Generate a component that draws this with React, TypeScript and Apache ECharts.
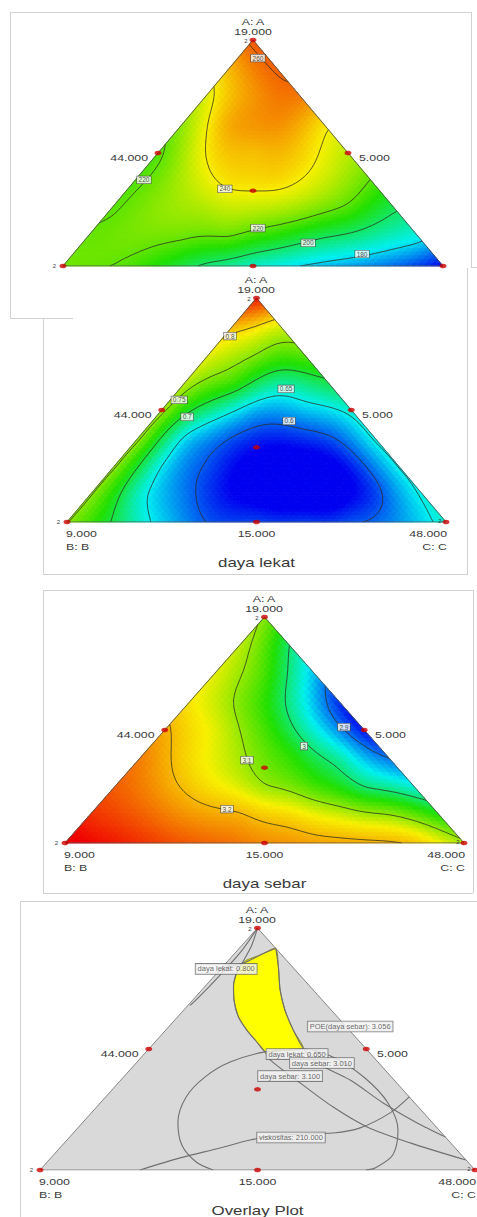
import React, { useEffect, useRef } from "react";
import * as echarts from "echarts";

// ---------- DATA ----------
// Lattice of estimated response values: row i has A = i/8, values go from the B side (C = 0) to the C side.
const LATTICE = 8;

const viskositasRows = [
  [222, 220, 211, 198, 188, 180, 174, 167, 155],
  [221, 223, 221, 219, 210, 200, 192, 183],
  [219, 226, 230, 232, 227, 217, 201],
  [218, 230, 242, 243, 234, 219],
  [218, 240, 247, 245, 232],
  [226, 250, 254, 242],
  [236, 253, 257],
  [248, 261],
  [262],
];
const dayaLekatRows = [
  [0.752, 0.695, 0.64, 0.598, 0.592, 0.59, 0.597, 0.62, 0.66],
  [0.753, 0.665, 0.61, 0.57, 0.55, 0.55, 0.59, 0.655],
  [0.755, 0.65, 0.595, 0.56, 0.555, 0.58, 0.652],
  [0.757, 0.645, 0.598, 0.58, 0.595, 0.655],
  [0.76, 0.68, 0.63, 0.635, 0.66],
  [0.768, 0.725, 0.675, 0.695],
  [0.785, 0.75, 0.735],
  [0.815, 0.78],
  [0.88],
];
const dayaSebarRows = [
  [3.38, 3.34, 3.3, 3.27, 3.24, 3.22, 3.21, 3.19, 3.11],
  [3.32, 3.28, 3.23, 3.205, 3.17, 3.13, 3.1, 3.04],
  [3.28, 3.22, 3.16, 3.105, 3.06, 3.0, 2.96],
  [3.25, 3.17, 3.11, 3.05, 2.98, 2.9],
  [3.21, 3.14, 3.06, 2.96, 2.86],
  [3.16, 3.09, 2.99, 2.87],
  [3.14, 3.06, 2.93],
  [3.12, 3.0],
  [3.09],
];

const viskositasLevels = [180, 200, 220, 240, 260];
const dayaLekatLevels = [0.6, 0.65, 0.7, 0.75, 0.8];
const dayaSebarLevels = [2.9, 3.0, 3.1, 3.2];

const viskositasColorStops = [155, 183, 212, 240, 275];
const dayaLekatColorStops = [0.57, 0.65, 0.715, 0.79, 0.89];
const dayaSebarColorStops = [2.85, 2.95, 3.04, 3.15, 3.36];
const rainbowColors = ["#0000f0", "#00f0f0", "#20e000", "#f8f000", "#f00000"];

const viskositasLabels = [
  { text: "260", x: 0.513, y: 0.92 },
  { text: "240", x: 0.426, y: 0.341 },
  { text: "220", x: 0.513, y: 0.168 },
  { text: "200", x: 0.645, y: 0.102 },
  { text: "180", x: 0.787, y: 0.053 },
  { text: "220", x: 0.213, y: 0.381 },
];
const dayaLekatLabels = [
  { text: "0.8", x: 0.43, y: 0.83 },
  { text: "0.75", x: 0.296, y: 0.545 },
  { text: "0.7", x: 0.317, y: 0.469 },
  { text: "0.65", x: 0.578, y: 0.594 },
  { text: "0.6", x: 0.586, y: 0.451 },
];
const dayaSebarLabels = [
  { text: "2.9", x: 0.699, y: 0.513 },
  { text: "3", x: 0.599, y: 0.429 },
  { text: "3.1", x: 0.456, y: 0.367 },
  { text: "3.2", x: 0.406, y: 0.15 },
];

// Overlay plot curves (x = C + A/2, y = A)
const overlayLekat080 = [[0.542, 0.916], [0.506, 0.888], [0.467, 0.855], [0.425, 0.835], [0.409, 0.818]];
const overlaySebar310 = [
  [0.5, 1.0], [0.487, 0.93], [0.469, 0.868], [0.453, 0.818], [0.445, 0.764], [0.446, 0.702],
  [0.456, 0.633], [0.475, 0.579], [0.498, 0.53], [0.517, 0.489], [0.529, 0.455], [0.598, 0.36],
  [0.674, 0.26], [0.752, 0.178], [0.851, 0.112], [0.979, 0.041],
];
const overlaySebar301 = [
  [0.542, 0.916], [0.548, 0.84], [0.552, 0.744], [0.563, 0.661], [0.582, 0.579], [0.605, 0.503],
  [0.637, 0.442], [0.713, 0.372], [0.789, 0.277], [0.867, 0.194], [0.932, 0.136],
];
const overlayLekat065 = [
  [0.398, 0], [0.359, 0.033], [0.326, 0.103], [0.317, 0.198], [0.336, 0.302], [0.379, 0.384],
  [0.437, 0.446], [0.517, 0.488], [0.605, 0.5], [0.678, 0.463], [0.747, 0.38], [0.8, 0.277],
  [0.823, 0.165], [0.811, 0.062], [0.77, 0.008], [0.749, 0],
];
const overlayVisk210 = [
  [0.23, 0], [0.322, 0.05], [0.414, 0.091], [0.483, 0.124], [0.559, 0.145], [0.674, 0.153],
  [0.736, 0.174], [0.805, 0.236], [0.849, 0.302],
];
const overlayEdgeCurve = [[0.5, 1.0], [0.462, 0.902], [0.407, 0.792], [0.363, 0.71], [0.345, 0.68]];
const overlayYellow = [
  [0.542, 0.916], [0.506, 0.888], [0.472, 0.864], [0.453, 0.818], [0.445, 0.764], [0.446, 0.702],
  [0.456, 0.633], [0.475, 0.579], [0.498, 0.53], [0.517, 0.489], [0.56, 0.494], [0.605, 0.503],
  [0.582, 0.579], [0.563, 0.661], [0.552, 0.744], [0.548, 0.84],
];
const overlayLabels = [
  { text: "daya lekat: 0.800", x: 0.428, y: 0.831 },
  { text: "POE(daya sebar): 3.056", x: 0.713, y: 0.593 },
  { text: "daya lekat: 0.650", x: 0.591, y: 0.479 },
  { text: "daya sebar: 3.010", x: 0.648, y: 0.442 },
  { text: "daya sebar: 3.100", x: 0.575, y: 0.388 },
  { text: "viskositas: 210.000", x: 0.577, y: 0.134 },
];

// Design points (A, B, C fractions)
const designPoints = [
  [0, 1, 0], [0, 0, 1], [1, 0, 0], [0.5, 0.5, 0], [0.5, 0, 0.5], [0, 0.5, 0.5], [1 / 3, 1 / 3, 1 / 3],
];

const apexName = "A: A";
const apexValue = "19.000";
const leftMidValue = "44.000";
const rightMidValue = "5.000";
const bottomLeftValue = "9.000";
const bottomLeftName = "B: B";
const bottomMidValue = "15.000";
const bottomRightValue = "48.000";
const bottomRightName = "C: C";
const vertexMark = "2";
const titles = ["", "daya lekat", "daya sebar", "Overlay Plot"];

// ---------- LAYOUT ----------
const panels = [
  { apex: [253, 40], B: [63, 266], C: [443, 266], bottom: false, rightMark: false },
  { apex: [256, 298], B: [67, 522], C: [446, 522], bottom: true, rightMark: true },
  { apex: [264, 617], B: [65, 843], C: [464, 843], bottom: true, rightMark: true },
  { apex: [257, 928], B: [40, 1170], C: [475, 1170], bottom: true, rightMark: true },
];

const FONT = "Liberation Sans, Arial, sans-serif";
const FINE = 60;
const ASPECT = 0.6;

type Field = (x: number, y: number) => number;

function toXY(t: number[]) {
  const a = t[0], c = t[2];
  return [c + a / 2, a];
}

function fitField(rows: number[][]): Field {
  const px: number[] = [], py: number[] = [], pv: number[] = [];
  rows.forEach((row, i) =>
    row.forEach((v, j) => {
      const a = i / LATTICE, c = j / LATTICE;
      px.push(c + a / 2);
      py.push(a * ASPECT);
      pv.push(v);
    })
  );
  const n = pv.length, m = n + 3;
  const M: number[][] = [];
  for (let r = 0; r < m; r++) M.push(new Array(m + 1).fill(0));
  const phi = (d2: number) => (d2 > 1e-14 ? 0.5 * d2 * Math.log(d2) : 0);
  for (let i = 0; i < n; i++) {
    for (let j = 0; j < n; j++) {
      const dx = px[i] - px[j], dy = py[i] - py[j];
      M[i][j] = phi(dx * dx + dy * dy);
    }
    M[i][n] = 1; M[i][n + 1] = px[i]; M[i][n + 2] = py[i]; M[i][m] = pv[i];
    M[n][i] = 1; M[n + 1][i] = px[i]; M[n + 2][i] = py[i];
  }
  for (let col = 0; col < m; col++) {
    let piv = col;
    for (let r = col + 1; r < m; r++) if (Math.abs(M[r][col]) > Math.abs(M[piv][col])) piv = r;
    const tmp = M[col]; M[col] = M[piv]; M[piv] = tmp;
    const d = M[col][col];
    for (let r = 0; r < m; r++) {
      if (r === col) continue;
      const f = M[r][col] / d;
      if (f === 0) continue;
      for (let k = col; k <= m; k++) M[r][k] -= f * M[col][k];
    }
  }
  const w = M.map((row, i) => row[m] / row[i]);
  return (x: number, y: number) => {
    const yy = y * ASPECT;
    let s = w[n] + w[n + 1] * x + w[n + 2] * yy;
    for (let k = 0; k < n; k++) {
      const dx = x - px[k], dy = yy - py[k];
      s += w[k] * phi(dx * dx + dy * dy);
    }
    return s;
  };
}

function buildMesh(field: Field) {
  const ids: number[][] = [];
  const vx: number[] = [], vy: number[] = [], vv: number[] = [];
  for (let i = 0; i <= FINE; i++) {
    ids.push([]);
    for (let j = 0; j <= FINE - i; j++) {
      const a = i / FINE, c = j / FINE;
      const x = c + a / 2, y = a;
      ids[i].push(vx.length);
      vx.push(x); vy.push(y); vv.push(field(x, y));
    }
  }
  const tris: number[][] = [];
  for (let i = 0; i < FINE; i++)
    for (let j = 0; j < FINE - i; j++) {
      tris.push([ids[i][j], ids[i][j + 1], ids[i + 1][j]]);
      if (j < FINE - i - 1) tris.push([ids[i][j + 1], ids[i + 1][j + 1], ids[i + 1][j]]);
    }
  return { vx, vy, vv, tris };
}

function contourLines(mesh: ReturnType<typeof buildMesh>, level: number): number[][][] {
  const { vx, vy, vv, tris } = mesh;
  const L = level + 1e-9;
  const pts = new Map<string, number[]>();
  const segs: string[][] = [];
  const key = (p: number, q: number) => (p < q ? p + "_" + q : q + "_" + p);
  const cross = (p: number, q: number) => {
    const k = key(p, q);
    if (!pts.has(k)) {
      const t = (L - vv[p]) / (vv[q] - vv[p]);
      pts.set(k, [vx[p] + t * (vx[q] - vx[p]), vy[p] + t * (vy[q] - vy[p])]);
    }
    return k;
  };
  for (const [p, q, r] of tris) {
    const e: string[] = [];
    const sp = vv[p] > L, sq = vv[q] > L, sr = vv[r] > L;
    if (sp !== sq) e.push(cross(p, q));
    if (sq !== sr) e.push(cross(q, r));
    if (sr !== sp) e.push(cross(r, p));
    if (e.length === 2) segs.push(e);
  }
  const adj = new Map<string, number[]>();
  segs.forEach((s, i) => {
    for (const k of s) {
      if (!adj.has(k)) adj.set(k, []);
      adj.get(k)!.push(i);
    }
  });
  const used = new Array(segs.length).fill(false);
  const walk = (start: string, out: string[]) => {
    let cur = start;
    for (;;) {
      const list = adj.get(cur) || [];
      const nxt = list.find((i) => !used[i]);
      if (nxt === undefined) break;
      used[nxt] = true;
      const s = segs[nxt];
      cur = s[0] === cur ? s[1] : s[0];
      out.push(cur);
    }
  };
  const lines: number[][][] = [];
  for (let i = 0; i < segs.length; i++) {
    if (used[i]) continue;
    used[i] = true;
    const fwd = [segs[i][0], segs[i][1]];
    walk(segs[i][1], fwd);
    const back: string[] = [];
    walk(segs[i][0], back);
    const chain = back.reverse().concat(fwd);
    lines.push(chain.map((k) => pts.get(k)!));
  }
  return lines;
}

function hexToRgb(h: string) {
  return [parseInt(h.slice(1, 3), 16), parseInt(h.slice(3, 5), 16), parseInt(h.slice(5, 7), 16)];
}
const rainbowRgb = rainbowColors.map(hexToRgb);

function colorFor(v: number, stops: number[]) {
  if (v <= stops[0]) return rainbowColors[0];
  if (v >= stops[stops.length - 1]) return rainbowColors[rainbowColors.length - 1];
  let k = 0;
  while (k < stops.length - 2 && v > stops[k + 1]) k++;
  const t = (v - stops[k]) / (stops[k + 1] - stops[k]);
  const c0 = rainbowRgb[k], c1 = rainbowRgb[k + 1];
  const c = c0.map((x, i) => Math.round(x + (c1[i] - x) * t));
  return `rgb(${c[0]},${c[1]},${c[2]})`;
}

function txt(text: string, x: number, y: number, size: number, align: string, scaleX = 1.3) {
  return {
    type: "text",
    x,
    y,
    scaleX,
    silent: true,
    z: 50,
    style: {
      text,
      fill: "#3a3a3a",
      fontSize: size,
      fontFamily: FONT,
      textAlign: align,
      textVerticalAlign: "middle",
      align,
      verticalAlign: "middle",
    },
  };
}

function hline(x1: number, y1: number, x2: number, y2: number) {
  return {
    type: "line",
    silent: true,
    z: 0,
    shape: { x1, y1, x2, y2 },
    style: { stroke: "#d2d2d2", lineWidth: 1 },
  };
}

function buildOption() {
  const fieldPanels = [
    { rows: viskositasRows, levels: viskositasLevels, stops: viskositasColorStops, labels: viskositasLabels },
    { rows: dayaLekatRows, levels: dayaLekatLevels, stops: dayaLekatColorStops, labels: dayaLekatLabels },
    { rows: dayaSebarRows, levels: dayaSebarLevels, stops: dayaSebarColorStops, labels: dayaSebarLabels },
  ];
  const grids = panels.map((p) => ({
    left: p.B[0],
    top: p.apex[1],
    width: p.C[0] - p.B[0],
    height: p.B[1] - p.apex[1],
    show: false,
  }));
  const xAxes = panels.map((_, i) => ({ type: "value", min: 0, max: 1, show: false, gridIndex: i }));
  const yAxes = panels.map((_, i) => ({ type: "value", min: 0, max: 1, show: false, gridIndex: i }));
  const series: any[] = [];
  const triangle = [[0, 0], [1, 0], [0.5, 1], [0, 0]];

  fieldPanels.forEach((fp, pi) => {
    const field = fitField(fp.rows);
    const mesh = buildMesh(field);
    const fillData = mesh.tris.map(([p, q, r]) => [
      mesh.vx[p], mesh.vy[p], mesh.vx[q], mesh.vy[q], mesh.vx[r], mesh.vy[r],
      (mesh.vv[p] + mesh.vv[q] + mesh.vv[r]) / 3,
    ]);
    const stops = fp.stops;
    series.push({
      type: "custom",
      xAxisIndex: pi,
      yAxisIndex: pi,
      silent: true,
      z: 1,
      progressive: 0,
      encode: { x: [0, 2, 4], y: [1, 3, 5] },
      data: fillData,
      renderItem: (params: any, api: any) => {
        const a = api.coord([api.value(0), api.value(1)]);
        const b = api.coord([api.value(2), api.value(3)]);
        const c = api.coord([api.value(4), api.value(5)]);
        const col = colorFor(api.value(6), stops);
        return {
          type: "polygon",
          shape: { points: [a, b, c] },
          style: { fill: col, stroke: col, lineWidth: 1 },
        };
      },
    });
    fp.levels.forEach((lv) => {
      contourLines(mesh, lv).forEach((line) => {
        if (line.length < 2) return;
        series.push({
          type: "line",
          xAxisIndex: pi,
          yAxisIndex: pi,
          silent: true,
          z: 3,
          symbol: "none",
          data: line,
          lineStyle: { color: "#2c2c22", width: 0.9, opacity: 0.85 },
        });
      });
    });
    series.push({
      type: "scatter",
      xAxisIndex: pi,
      yAxisIndex: pi,
      silent: true,
      z: 6,
      symbol: "circle",
      symbolSize: 1,
      itemStyle: { color: "rgba(0,0,0,0)" },
      data: fp.labels.map((l) => ({ value: [l.x, l.y], name: l.text })),
      label: {
        show: true,
        position: "inside",
        formatter: "{b}",
        fontSize: 6.5,
        fontFamily: FONT,
        color: "#222",
        backgroundColor: "#ffffff",
        borderColor: "#444",
        borderWidth: 0.6,
        padding: [0, 1.5],
      },
    });
  });

  // Overlay panel
  const oi = 3;
  series.push({
    type: "custom",
    xAxisIndex: oi,
    yAxisIndex: oi,
    silent: true,
    z: 1,
    data: [[0.5, 0.5]],
    renderItem: (params: any, api: any) => ({
      type: "polygon",
      shape: { points: triangle.slice(0, 3).map((p) => api.coord(p)) },
      style: { fill: "#d9d9d9" },
    }),
  });
  series.push({
    type: "custom",
    xAxisIndex: oi,
    yAxisIndex: oi,
    silent: true,
    z: 2,
    data: [[0.5, 0.7]],
    renderItem: (params: any, api: any) => ({
      type: "polygon",
      shape: { points: overlayYellow.map((p) => api.coord(p)), smooth: 0.2 },
      style: { fill: "#ffff00", stroke: "#8a8a20", lineWidth: 1 },
    }),
  });
  [overlayLekat080, overlaySebar310, overlaySebar301, overlayLekat065, overlayVisk210, overlayEdgeCurve].forEach((ln) => {
    series.push({
      type: "line",
      xAxisIndex: oi,
      yAxisIndex: oi,
      silent: true,
      z: 3,
      symbol: "none",
      smooth: 0.3,
      data: ln,
      lineStyle: { color: "#707070", width: 1.1 },
    });
  });
  series.push({
    type: "scatter",
    xAxisIndex: oi,
    yAxisIndex: oi,
    silent: true,
    z: 6,
    symbol: "circle",
    symbolSize: 1,
    itemStyle: { color: "rgba(0,0,0,0)" },
    data: overlayLabels.map((l) => ({ value: [l.x, l.y], name: l.text })),
    label: {
      show: true,
      position: "inside",
      formatter: "{b}",
      fontSize: 7.5,
      fontFamily: FONT,
      color: "#444",
      backgroundColor: "#f2f2f2",
      borderColor: "#666",
      borderWidth: 0.8,
      padding: [1, 2],
    },
  });

  // edges and design points for all panels
  panels.forEach((_, pi) => {
    series.push({
      type: "line",
      xAxisIndex: pi,
      yAxisIndex: pi,
      silent: true,
      z: 4,
      symbol: "none",
      data: triangle,
      lineStyle: { color: pi === 3 ? "#7a7a7a" : "#555", width: 0.9 },
    });
    series.push({
      type: "scatter",
      xAxisIndex: pi,
      yAxisIndex: pi,
      silent: true,
      z: 5,
      symbol: "circle",
      symbolSize: [7, 4.5],
      itemStyle: { color: "#cc0000" },
      data: designPoints.map(toXY),
    });
  });

  // texts
  const graphic: any[] = [];
  graphic.push(hline(10, 12.5, 471, 12.5), hline(10.5, 12, 10.5, 318), hline(10, 318.5, 73, 318.5), hline(471.5, 12, 471.5, 267));
  graphic.push(hline(471, 267.5, 477, 267.5));
  graphic.push(hline(43.5, 318, 43.5, 574), hline(43, 574.5, 468, 574.5), hline(467.5, 268, 467.5, 574));
  graphic.push(hline(43, 590.5, 473, 590.5), hline(43.5, 590, 43.5, 893), hline(43, 893.5, 473, 893.5), hline(473.5, 590, 473.5, 893));
  graphic.push(hline(20, 901.5, 477, 901.5), hline(20.5, 901, 20.5, 1217));

  panels.forEach((p, pi) => {
    const [ax, ay] = p.apex;
    const [bx, by] = p.B;
    const [cx] = p.C;
    const midLx = (ax + bx) / 2, midLy = (ay + by) / 2;
    const midRx = (ax + cx) / 2;
    const midB = (bx + cx) / 2;
    graphic.push(txt(apexName, ax, ay - 18, 9.5, "center"));
    graphic.push(txt(apexValue, ax, ay - 8.5, 9.5, "center"));
    graphic.push(txt(vertexMark, ax - 7, ay + 1, 6, "center", 1));
    graphic.push(txt(leftMidValue, midLx - 10, midLy + 5, 9.5, "right"));
    graphic.push(txt(rightMidValue, midRx + 11, midLy + 5, 9.5, "left"));
    graphic.push(txt(vertexMark, bx - 7, by, 6, "right", 1));
    if (p.rightMark) graphic.push(txt(vertexMark, cx - 6, by - 1, 6, "center", 1));
    if (p.bottom) {
      const rx = pi === 3 ? 476 : cx + 1;
      graphic.push(txt(bottomLeftValue, bx - 1, by + 12, 9.5, "left"));
      graphic.push(txt(bottomLeftName, bx - 1, by + 25, 9.5, "left"));
      graphic.push(txt(bottomMidValue, midB, by + 12, 9.5, "center"));
      graphic.push(txt(bottomRightValue, rx, by + 12, 9.5, "right"));
      graphic.push(txt(bottomRightName, rx, by + 25, 9.5, "right"));
      graphic.push(txt(titles[pi], midB, by + 40, 13, "center", 1.3));
    }
  });

  return {
    animation: false,
    backgroundColor: "#ffffff",
    grid: grids,
    xAxis: xAxes,
    yAxis: yAxes,
    series,
    graphic,
  };
}

export default function App() {
  const ref = useRef<HTMLDivElement>(null);
  useEffect(() => {
    if (!ref.current) return;
    const chart = echarts.init(ref.current, undefined, { renderer: "svg" });
    chart.setOption(buildOption() as any);
    return () => chart.dispose();
  }, []);
  return (
    <div
      ref={ref}
      style={{ position: "absolute", left: 0, top: 0, width: 477, height: 1217, background: "#fff" }}
    />
  );
}
